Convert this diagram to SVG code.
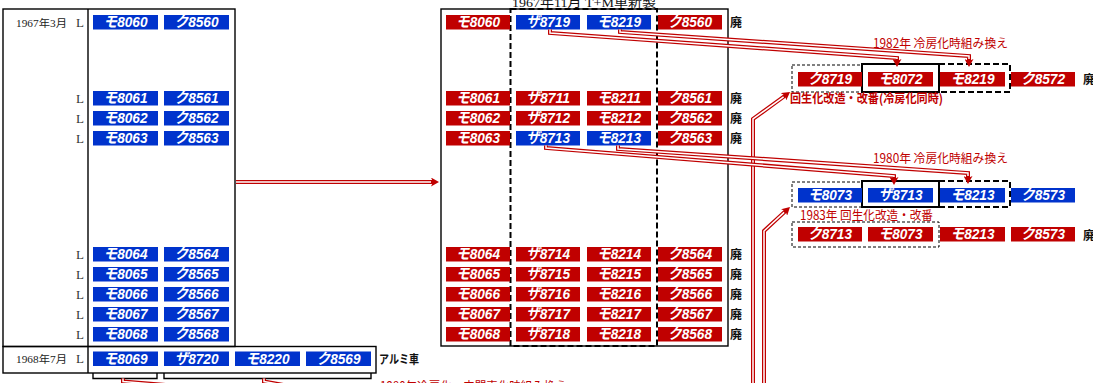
<svg xmlns="http://www.w3.org/2000/svg" width="1093" height="383" viewBox="0 0 1093 383">
<defs>
<style>
.b{fill:#0033CC}
.r{fill:#C00000}
.t{font-family:"Liberation Sans","Noto Sans CJK JP",sans-serif;font-size:15px;font-weight:bold;font-style:italic;fill:#fff;text-anchor:middle}
.fr{fill:none;stroke:#000;stroke-width:1.4}
.dsh{fill:none;stroke:#000;stroke-width:2;stroke-dasharray:6 3}
.thin{fill:none;stroke:#000;stroke-width:1;stroke-dasharray:3 2}
.sol{fill:none;stroke:#000;stroke-width:2}
.L{font-family:"Liberation Serif",serif;font-size:13px;fill:#333;text-anchor:middle}
.dt{font-family:"Liberation Serif","Noto Sans CJK JP",serif;font-size:10.5px;fill:#222}
.hai{font-family:"Noto Sans CJK JP",sans-serif;font-size:12px;font-weight:bold;fill:#111}
.rl{font-family:"Noto Sans CJK JP",sans-serif;font-size:12.5px;fill:#C00000}
.dl{fill:none;stroke:#C00000;stroke-width:4;marker-end:url(#ah)}
.dw{fill:none;stroke:#fff;stroke-width:1.5}
</style>
<marker id="ah" viewBox="0 0 8 9" refX="3" refY="4.5" markerWidth="8" markerHeight="9" markerUnits="userSpaceOnUse" orient="auto"><path d="M0,0 L8,4.5 L0,9 L2,4.5 z" fill="#C00000"/></marker>
</defs>
<rect width="1093" height="383" fill="#fff"/>

<g id="frames">
<rect class="fr" x="3" y="9" width="232" height="337.5"/>
<line class="fr" x1="88" y1="9" x2="88" y2="346.5"/>
<rect class="fr" x="3" y="346.5" width="373" height="26.5"/>
<line class="fr" x1="88" y1="346.5" x2="88" y2="373"/>
<path class="fr" d="M93,373 V378.5 H157 V373 M164,373 V378.5 H371 V373"/>
<rect class="fr" x="441" y="9" width="287" height="337"/>
<rect class="dsh" x="510.5" y="9" width="146.5" height="337"/>
<rect class="thin" x="792" y="65" width="70" height="27"/>
<rect class="sol" x="862" y="64" width="77" height="28"/>
<path class="dsh" d="M939,64 H1010 V92 H939"/>
<rect class="thin" x="792" y="182" width="70" height="25"/>
<rect class="sol" x="862" y="181" width="77" height="26"/>
<path class="dsh" d="M939,181 H1010 V207 H939"/>
<rect class="thin" x="792" y="222" width="147" height="25"/>
</g>

<g id="left-labels">
<text class="dt" x="16" y="27" textLength="51" lengthAdjust="spacingAndGlyphs">1967年3月</text>
<text class="dt" x="16" y="363" textLength="51" lengthAdjust="spacingAndGlyphs">1968年7月</text>
<text class="L" x="80" y="27">L</text>
<text class="L" x="80" y="103">L</text>
<text class="L" x="80" y="123">L</text>
<text class="L" x="80" y="143">L</text>
<text class="L" x="80" y="259">L</text>
<text class="L" x="80" y="279">L</text>
<text class="L" x="80" y="299">L</text>
<text class="L" x="80" y="319">L</text>
<text class="L" x="80" y="339">L</text>
<text class="L" x="80" y="363">L</text>
<text class="hai" x="379" y="364" textLength="40" lengthAdjust="spacingAndGlyphs">アルミ車</text>
</g>

<g id="left-cars">
<g id="L-m8060"><rect class="b" x="93" y="15" width="65" height="14.5"/><text class="t" x="125.5" y="27" textLength="44" lengthAdjust="spacingAndGlyphs">モ8060</text></g>
<g id="L-k8560"><rect class="b" x="164" y="15" width="65" height="14.5"/><text class="t" x="196.5" y="27" textLength="44" lengthAdjust="spacingAndGlyphs">ク8560</text></g>
<g id="L-m8061"><rect class="b" x="93" y="91" width="65" height="14.5"/><text class="t" x="125.5" y="103" textLength="44" lengthAdjust="spacingAndGlyphs">モ8061</text></g>
<g id="L-k8561"><rect class="b" x="164" y="91" width="65" height="14.5"/><text class="t" x="196.5" y="103" textLength="44" lengthAdjust="spacingAndGlyphs">ク8561</text></g>
<g id="L-m8062"><rect class="b" x="93" y="111" width="65" height="14.5"/><text class="t" x="125.5" y="123" textLength="44" lengthAdjust="spacingAndGlyphs">モ8062</text></g>
<g id="L-k8562"><rect class="b" x="164" y="111" width="65" height="14.5"/><text class="t" x="196.5" y="123" textLength="44" lengthAdjust="spacingAndGlyphs">ク8562</text></g>
<g id="L-m8063"><rect class="b" x="93" y="131" width="65" height="14.5"/><text class="t" x="125.5" y="143" textLength="44" lengthAdjust="spacingAndGlyphs">モ8063</text></g>
<g id="L-k8563"><rect class="b" x="164" y="131" width="65" height="14.5"/><text class="t" x="196.5" y="143" textLength="44" lengthAdjust="spacingAndGlyphs">ク8563</text></g>
<g id="L-m8064"><rect class="b" x="93" y="247" width="65" height="14.5"/><text class="t" x="125.5" y="259" textLength="44" lengthAdjust="spacingAndGlyphs">モ8064</text></g>
<g id="L-k8564"><rect class="b" x="164" y="247" width="65" height="14.5"/><text class="t" x="196.5" y="259" textLength="44" lengthAdjust="spacingAndGlyphs">ク8564</text></g>
<g id="L-m8065"><rect class="b" x="93" y="267" width="65" height="14.5"/><text class="t" x="125.5" y="279" textLength="44" lengthAdjust="spacingAndGlyphs">モ8065</text></g>
<g id="L-k8565"><rect class="b" x="164" y="267" width="65" height="14.5"/><text class="t" x="196.5" y="279" textLength="44" lengthAdjust="spacingAndGlyphs">ク8565</text></g>
<g id="L-m8066"><rect class="b" x="93" y="287" width="65" height="14.5"/><text class="t" x="125.5" y="299" textLength="44" lengthAdjust="spacingAndGlyphs">モ8066</text></g>
<g id="L-k8566"><rect class="b" x="164" y="287" width="65" height="14.5"/><text class="t" x="196.5" y="299" textLength="44" lengthAdjust="spacingAndGlyphs">ク8566</text></g>
<g id="L-m8067"><rect class="b" x="93" y="307" width="65" height="14.5"/><text class="t" x="125.5" y="319" textLength="44" lengthAdjust="spacingAndGlyphs">モ8067</text></g>
<g id="L-k8567"><rect class="b" x="164" y="307" width="65" height="14.5"/><text class="t" x="196.5" y="319" textLength="44" lengthAdjust="spacingAndGlyphs">ク8567</text></g>
<g id="L-m8068"><rect class="b" x="93" y="327" width="65" height="14.5"/><text class="t" x="125.5" y="339" textLength="44" lengthAdjust="spacingAndGlyphs">モ8068</text></g>
<g id="L-k8568"><rect class="b" x="164" y="327" width="65" height="14.5"/><text class="t" x="196.5" y="339" textLength="44" lengthAdjust="spacingAndGlyphs">ク8568</text></g>
<g id="L-m8069"><rect class="b" x="93" y="351.5" width="65" height="14.5"/><text class="t" x="125.5" y="363.5" textLength="44" lengthAdjust="spacingAndGlyphs">モ8069</text></g>
<g id="L-s8720"><rect class="b" x="164" y="351.5" width="65" height="14.5"/><text class="t" x="196.5" y="363.5" textLength="44" lengthAdjust="spacingAndGlyphs">ザ8720</text></g>
<g id="L-m8220"><rect class="b" x="235" y="351.5" width="65" height="14.5"/><text class="t" x="267.5" y="363.5" textLength="44" lengthAdjust="spacingAndGlyphs">モ8220</text></g>
<g id="L-k8569"><rect class="b" x="306" y="351.5" width="65" height="14.5"/><text class="t" x="338.5" y="363.5" textLength="44" lengthAdjust="spacingAndGlyphs">ク8569</text></g>
</g>

<g id="mid-labels">
<text x="512" y="7" font-family="Liberation Serif, Noto Sans CJK JP, serif" font-size="12.5" fill="#111" textLength="144" lengthAdjust="spacingAndGlyphs">1967年11月  T+M車新製</text>
<text class="hai" x="730" y="27">廃</text>
<text class="hai" x="730" y="103">廃</text>
<text class="hai" x="730" y="123">廃</text>
<text class="hai" x="730" y="143">廃</text>
<text class="hai" x="730" y="259">廃</text>
<text class="hai" x="730" y="279">廃</text>
<text class="hai" x="730" y="299">廃</text>
<text class="hai" x="730" y="319">廃</text>
<text class="hai" x="730" y="339">廃</text>
</g>

<g id="mid-cars">
<g id="M-m8060"><rect class="r" x="446" y="15" width="64" height="14.5"/><text class="t" x="478" y="27" textLength="44" lengthAdjust="spacingAndGlyphs">モ8060</text></g>
<g id="M-s8719"><rect class="b" x="516" y="15" width="64" height="14.5"/><text class="t" x="548" y="27" textLength="44" lengthAdjust="spacingAndGlyphs">ザ8719</text></g>
<g id="M-m8219"><rect class="b" x="587" y="15" width="64" height="14.5"/><text class="t" x="619" y="27" textLength="44" lengthAdjust="spacingAndGlyphs">モ8219</text></g>
<g id="M-k8560"><rect class="r" x="658" y="15" width="64" height="14.5"/><text class="t" x="690" y="27" textLength="44" lengthAdjust="spacingAndGlyphs">ク8560</text></g>

<g id="M-m8061"><rect class="r" x="446" y="91" width="64" height="14.5"/><text class="t" x="478" y="103" textLength="44" lengthAdjust="spacingAndGlyphs">モ8061</text></g>
<g id="M-s8711"><rect class="r" x="516" y="91" width="64" height="14.5"/><text class="t" x="548" y="103" textLength="44" lengthAdjust="spacingAndGlyphs">ザ8711</text></g>
<g id="M-m8211"><rect class="r" x="587" y="91" width="64" height="14.5"/><text class="t" x="619" y="103" textLength="44" lengthAdjust="spacingAndGlyphs">モ8211</text></g>
<g id="M-k8561"><rect class="r" x="658" y="91" width="64" height="14.5"/><text class="t" x="690" y="103" textLength="44" lengthAdjust="spacingAndGlyphs">ク8561</text></g>

<g id="M-m8062"><rect class="r" x="446" y="111" width="64" height="14.5"/><text class="t" x="478" y="123" textLength="44" lengthAdjust="spacingAndGlyphs">モ8062</text></g>
<g id="M-s8712"><rect class="r" x="516" y="111" width="64" height="14.5"/><text class="t" x="548" y="123" textLength="44" lengthAdjust="spacingAndGlyphs">ザ8712</text></g>
<g id="M-m8212"><rect class="r" x="587" y="111" width="64" height="14.5"/><text class="t" x="619" y="123" textLength="44" lengthAdjust="spacingAndGlyphs">モ8212</text></g>
<g id="M-k8562"><rect class="r" x="658" y="111" width="64" height="14.5"/><text class="t" x="690" y="123" textLength="44" lengthAdjust="spacingAndGlyphs">ク8562</text></g>

<g id="M-m8063"><rect class="r" x="446" y="131" width="64" height="14.5"/><text class="t" x="478" y="143" textLength="44" lengthAdjust="spacingAndGlyphs">モ8063</text></g>
<g id="M-s8713"><rect class="b" x="516" y="131" width="64" height="14.5"/><text class="t" x="548" y="143" textLength="44" lengthAdjust="spacingAndGlyphs">ザ8713</text></g>
<g id="M-m8213"><rect class="b" x="587" y="131" width="64" height="14.5"/><text class="t" x="619" y="143" textLength="44" lengthAdjust="spacingAndGlyphs">モ8213</text></g>
<g id="M-k8563"><rect class="r" x="658" y="131" width="64" height="14.5"/><text class="t" x="690" y="143" textLength="44" lengthAdjust="spacingAndGlyphs">ク8563</text></g>

<g id="M-m8064"><rect class="r" x="446" y="247" width="64" height="14.5"/><text class="t" x="478" y="259" textLength="44" lengthAdjust="spacingAndGlyphs">モ8064</text></g>
<g id="M-s8714"><rect class="r" x="516" y="247" width="64" height="14.5"/><text class="t" x="548" y="259" textLength="44" lengthAdjust="spacingAndGlyphs">ザ8714</text></g>
<g id="M-m8214"><rect class="r" x="587" y="247" width="64" height="14.5"/><text class="t" x="619" y="259" textLength="44" lengthAdjust="spacingAndGlyphs">モ8214</text></g>
<g id="M-k8564"><rect class="r" x="658" y="247" width="64" height="14.5"/><text class="t" x="690" y="259" textLength="44" lengthAdjust="spacingAndGlyphs">ク8564</text></g>

<g id="M-m8065"><rect class="r" x="446" y="267" width="64" height="14.5"/><text class="t" x="478" y="279" textLength="44" lengthAdjust="spacingAndGlyphs">モ8065</text></g>
<g id="M-s8715"><rect class="r" x="516" y="267" width="64" height="14.5"/><text class="t" x="548" y="279" textLength="44" lengthAdjust="spacingAndGlyphs">ザ8715</text></g>
<g id="M-m8215"><rect class="r" x="587" y="267" width="64" height="14.5"/><text class="t" x="619" y="279" textLength="44" lengthAdjust="spacingAndGlyphs">モ8215</text></g>
<g id="M-k8565"><rect class="r" x="658" y="267" width="64" height="14.5"/><text class="t" x="690" y="279" textLength="44" lengthAdjust="spacingAndGlyphs">ク8565</text></g>

<g id="M-m8066"><rect class="r" x="446" y="287" width="64" height="14.5"/><text class="t" x="478" y="299" textLength="44" lengthAdjust="spacingAndGlyphs">モ8066</text></g>
<g id="M-s8716"><rect class="r" x="516" y="287" width="64" height="14.5"/><text class="t" x="548" y="299" textLength="44" lengthAdjust="spacingAndGlyphs">ザ8716</text></g>
<g id="M-m8216"><rect class="r" x="587" y="287" width="64" height="14.5"/><text class="t" x="619" y="299" textLength="44" lengthAdjust="spacingAndGlyphs">モ8216</text></g>
<g id="M-k8566"><rect class="r" x="658" y="287" width="64" height="14.5"/><text class="t" x="690" y="299" textLength="44" lengthAdjust="spacingAndGlyphs">ク8566</text></g>

<g id="M-m8067"><rect class="r" x="446" y="307" width="64" height="14.5"/><text class="t" x="478" y="319" textLength="44" lengthAdjust="spacingAndGlyphs">モ8067</text></g>
<g id="M-s8717"><rect class="r" x="516" y="307" width="64" height="14.5"/><text class="t" x="548" y="319" textLength="44" lengthAdjust="spacingAndGlyphs">ザ8717</text></g>
<g id="M-m8217"><rect class="r" x="587" y="307" width="64" height="14.5"/><text class="t" x="619" y="319" textLength="44" lengthAdjust="spacingAndGlyphs">モ8217</text></g>
<g id="M-k8567"><rect class="r" x="658" y="307" width="64" height="14.5"/><text class="t" x="690" y="319" textLength="44" lengthAdjust="spacingAndGlyphs">ク8567</text></g>

<g id="M-m8068"><rect class="r" x="446" y="327" width="64" height="14.5"/><text class="t" x="478" y="339" textLength="44" lengthAdjust="spacingAndGlyphs">モ8068</text></g>
<g id="M-s8718"><rect class="r" x="516" y="327" width="64" height="14.5"/><text class="t" x="548" y="339" textLength="44" lengthAdjust="spacingAndGlyphs">ザ8718</text></g>
<g id="M-m8218"><rect class="r" x="587" y="327" width="64" height="14.5"/><text class="t" x="619" y="339" textLength="44" lengthAdjust="spacingAndGlyphs">モ8218</text></g>
<g id="M-k8568"><rect class="r" x="658" y="327" width="64" height="14.5"/><text class="t" x="690" y="339" textLength="44" lengthAdjust="spacingAndGlyphs">ク8568</text></g>
</g>

<g id="right-cars">
<g id="R1-k8719"><rect class="r" x="798" y="72" width="64" height="14.5"/><text class="t" x="830" y="84" textLength="44" lengthAdjust="spacingAndGlyphs">ク8719</text></g>
<g id="R1-m8072"><rect class="r" x="868" y="72" width="65" height="14.5"/><text class="t" x="900.5" y="84" textLength="44" lengthAdjust="spacingAndGlyphs">モ8072</text></g>
<g id="R1-m8219"><rect class="r" x="940" y="72" width="65" height="14.5"/><text class="t" x="972.5" y="84" textLength="44" lengthAdjust="spacingAndGlyphs">モ8219</text></g>
<g id="R1-k8572"><rect class="r" x="1011" y="72" width="64" height="14.5"/><text class="t" x="1043" y="84" textLength="44" lengthAdjust="spacingAndGlyphs">ク8572</text></g>

<g id="R2-m8073"><rect class="b" x="798" y="188" width="64" height="14.5"/><text class="t" x="830" y="200" textLength="44" lengthAdjust="spacingAndGlyphs">モ8073</text></g>
<g id="R2-s8713"><rect class="b" x="868" y="188" width="65" height="14.5"/><text class="t" x="900.5" y="200" textLength="44" lengthAdjust="spacingAndGlyphs">ザ8713</text></g>
<g id="R2-m8213"><rect class="b" x="940" y="188" width="65" height="14.5"/><text class="t" x="972.5" y="200" textLength="44" lengthAdjust="spacingAndGlyphs">モ8213</text></g>
<g id="R2-k8573"><rect class="b" x="1011" y="188" width="64" height="14.5"/><text class="t" x="1043" y="200" textLength="44" lengthAdjust="spacingAndGlyphs">ク8573</text></g>

<g id="R3-k8713"><rect class="r" x="798" y="227" width="64" height="14.5"/><text class="t" x="830" y="239" textLength="44" lengthAdjust="spacingAndGlyphs">ク8713</text></g>
<g id="R3-m8073"><rect class="r" x="868" y="227" width="65" height="14.5"/><text class="t" x="900.5" y="239" textLength="44" lengthAdjust="spacingAndGlyphs">モ8073</text></g>
<g id="R3-m8213"><rect class="r" x="940" y="227" width="65" height="14.5"/><text class="t" x="972.5" y="239" textLength="44" lengthAdjust="spacingAndGlyphs">モ8213</text></g>
<g id="R3-k8573"><rect class="r" x="1011" y="227" width="64" height="14.5"/><text class="t" x="1043" y="239" textLength="44" lengthAdjust="spacingAndGlyphs">ク8573</text></g>
</g>

<g id="right-labels">
<text class="hai" x="1083" y="84">廃</text>
<text class="hai" x="1083" y="240">廃</text>
<text class="rl" x="873" y="48" textLength="135" lengthAdjust="spacingAndGlyphs">1982年 冷房化時組み換え</text>
<text class="rl" x="790" y="103" font-size="11" font-weight="bold" textLength="153" lengthAdjust="spacingAndGlyphs">回生化改造・改番(冷房化同時)</text>
<text class="rl" x="873" y="163" textLength="135" lengthAdjust="spacingAndGlyphs">1980年 冷房化時組み換え</text>
<text class="rl" x="800" y="220" textLength="133" lengthAdjust="spacingAndGlyphs">1983年 回生化改造・改番</text>
<text class="rl" x="380" y="391" textLength="187" lengthAdjust="spacingAndGlyphs">1980年冷房化・中間車化時組み換え</text>
</g>

<g id="connectors">
<path class="dl" d="M236,182 H434"/>
<path class="dw" d="M236,182 H431"/>
<path class="dl" d="M123,378.5 V381.5 L190,387 H764 V231 L786.3,210.4"/>
<path class="dw" d="M123,378.5 V381.5 L190,387 H764 V231 L784.1,212.4"/>
<path class="dl" d="M264,378.5 V381.5 L300,388 H753 V119 L786,95"/>
<path class="dw" d="M264,378.5 V381.5 L300,388 H753 V119 L783.6,96.8"/>
<path class="dl" d="M550,29.5 V33 L897,58 V62"/>
<path class="dw" d="M550,29.5 V33 L897,58 V59"/>
<path class="dl" d="M620,29.5 V32 L969,56 V62"/>
<path class="dw" d="M620,29.5 V32 L969,56 V59"/>
<path class="dl" d="M546,145.5 V148 L894,176 V180"/>
<path class="dw" d="M546,145.5 V148 L894,176 V177"/>
<path class="dl" d="M618,145.5 V149 L968,173 V179"/>
<path class="dw" d="M618,145.5 V149 L968,173 V176"/>
</g>
</svg>
